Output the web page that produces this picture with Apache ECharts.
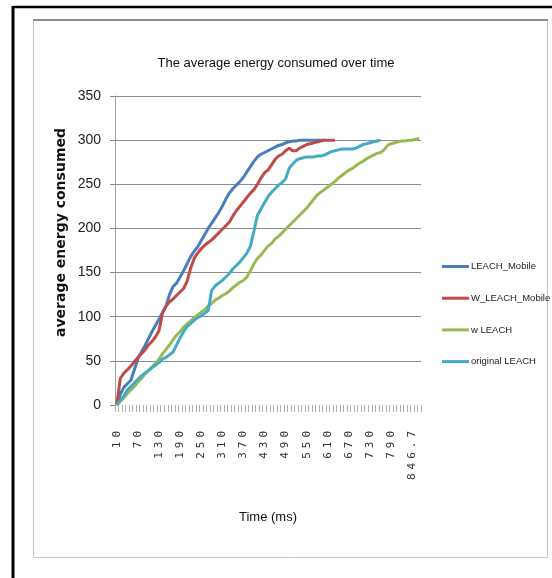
<!DOCTYPE html>
<html>
<head>
<meta charset="utf-8">
<script src="https://cdn.jsdelivr.net/npm/echarts@6/dist/echarts.min.js"></script>
<style>html,body{margin:0;padding:0;background:#fff;}#c{width:552px;height:578px;}</style>
</head>
<body>
<div id="c"></div>
<script>
const titleText = 'The average energy consumed over time';
const xName = 'Time (ms)';
const yName = 'average energy consumed';
const categories = ['10','20','30','40','50','60','70','80','90','100','110','120','130','140','150','160','170','180','190','200','210','220','230','240','250','260','270','280','290','300','310','320','330','340','350','360','370','380','390','400','410','420','430','440','450','460','470','480','490','500','510','520','530','540','550','560','570','580','590','600','610','620','630','640','650','660','670','680','690','700','710','720','730','740','750','760','770','780','790','800','810','820','830','840','846.7','853.3','860'];
const seriesNames = ['LEACH_Mobile', 'W_LEACH_Mobile', 'w LEACH', 'original LEACH'];
const leachMobile = [0,12,20,24,28,40,52,60,67,75,83,90,97,105,112,125,134,138,145,152,160,168,174,179,186,193,200,206,212,218,225,233,240,245,249,253,258,264,270,276,281,284,286,288,290,292,294,295,297,298,299,299,300,300,300,300,300,300,300,300];
const wLeachMobile = [0,30,36,40,44,49,54,58,62,68,72,77,84,104,112,117,120,124,128,132,140,155,166,172,177,181,184,187,191,195,199,203,207,214,220,225,230,235,240,244,250,257,263,266,272,278,282,284,288,291,288,288,291,293,295,296,297,298,299,300,300,300,300];
const wLeach = [0,4,8,13,17,21,26,30,35,39,43,47,52,58,63,68,74,79,83,88,92,95,99,102,105,108,112,115,119,121,124,126,129,133,136,139,141,145,152,160,166,170,175,180,183,188,191,195,199,203,207,211,215,219,223,228,233,238,241,244,247,250,253,257,260,263,266,268,271,274,276,279,281,283,285,286,289,294,296,297,298,299,299,300,300,301,302];
const originalLeach = [0,5,10,17,21,25,29,33,36,39,42,45,48,52,54,57,60,68,76,83,89,92,96,99,101,104,107,130,135,138,141,145,149,154,158,162,167,172,180,197,215,222,229,236,241,245,249,252,256,268,273,277,279,280,281,281,281,282,282,283,285,287,288,289,290,290,290,290,291,293,295,296,297,298,299,300];
const colors = ['#4A7EBB', '#BE4B48', '#98B954', '#46AAC5'];
const yTicks = { min: 0, max: 350, interval: 50 };

// wider letter spacing for the rotated time labels only
(function(){
  const proto = CanvasRenderingContext2D.prototype;
  const orig = proto.fillText;
  proto.fillText = function(t, x, y, w){
    const f = this.font;
    if (f && f.indexOf('DejaVu Sans Mono') >= 0 && 'letterSpacing' in this) {
      this.letterSpacing = '4px';
      this.font = f;
      orig.call(this, t, x, y);
      this.letterSpacing = '0px';
      this.font = f;
      return;
    }
    if ('letterSpacing' in this && this.letterSpacing !== '0px') { this.letterSpacing = '0px'; this.font = f; }
    return w === undefined ? orig.call(this, t, x, y) : orig.call(this, t, x, y, w);
  };
})();

const chart = echarts.init(document.getElementById('c'), null, { renderer: 'canvas' });
const dataArrays = [leachMobile, wLeachMobile, wLeach, originalLeach];
const gridColors = ['rgba(0,0,0,0)','#8a8a8a','#8a8a8a','#8a8a8a','#8a8a8a','#8a8a8a','#8a8a8a','#8a8a8a'];
chart.setOption({
  animation: false,
  backgroundColor: '#fff',
  title: {
    text: titleText,
    left: 'center',
    top: 52,
    textStyle: { fontFamily: 'Liberation Sans', fontSize: 13, fontWeight: 'normal', color: '#111' }
  },
  legend: {
    orient: 'vertical',
    left: 437,
    top: 254.5,
    icon: 'rect',
    itemWidth: 27,
    itemHeight: 3,
    itemGap: 17.7,
    textStyle: { fontFamily: 'Liberation Sans', fontSize: 9.5, color: '#222', lineHeight: 14, padding: [0,0,0,-3] },
    data: seriesNames
  },
  grid: { left: 115, top: 96, right: 131, bottom: 173, containLabel: false },
  xAxis: {
    type: 'category',
    data: categories,
    boundaryGap: true,
    name: xName,
    nameLocation: 'middle',
    nameGap: 106,
    nameMoveOverlap: false,
    nameTextStyle: { fontFamily: 'Liberation Sans', fontSize: 13, color: '#111' },
    axisLine: { show: false },
    axisTick: { show: true, interval: 0, length: 7, lineStyle: { color: '#b0b0b0', width: 1 } },
    axisLabel: { interval: 5, rotate: 90, margin: 22, fontFamily: 'DejaVu Sans Mono', fontSize: 11, color: '#333' },
    splitLine: { show: false }
  },
  yAxis: {
    type: 'value',
    min: yTicks.min,
    max: yTicks.max,
    interval: yTicks.interval,
    name: yName,
    nameLocation: 'middle',
    nameGap: 47,
    nameRotate: 90,
    nameMoveOverlap: false,
    nameTextStyle: { fontFamily: 'DejaVu Sans', fontWeight: 'bold', fontSize: 14, color: '#111', padding: [0, 0, 0, 36] },
    axisLine: { show: true, lineStyle: { color: '#a0a0a0', width: 1 } },
    axisTick: { show: true, length: 5, lineStyle: { color: '#8a8a8a' } },
    axisLabel: { margin: 14, fontFamily: 'Liberation Sans', fontSize: 14, color: '#222' },
    splitLine: { show: true, lineStyle: { color: gridColors, width: 1 } }
  },
  series: seriesNames.map((n, k) => ({
    name: n,
    type: 'line',
    data: dataArrays[k],
    showSymbol: false,
    symbol: 'none',
    lineStyle: { width: 3, color: colors[k] },
    itemStyle: { color: colors[k] },
    z: 2 + k
  })),
  graphic: [
    { type: 'rect', shape: { x: 33.5, y: 20.5, width: 514, height: 537 }, style: { fill: 'none', stroke: '#c4c4c4', lineWidth: 1 }, silent: true },
    { type: 'line', shape: { x1: 33, y1: 20, x2: 548, y2: 20 }, style: { stroke: '#8c8c8c', lineWidth: 2 }, silent: true },
    { type: 'line', shape: { x1: 13, y1: 7, x2: 552, y2: 7 }, style: { stroke: '#000', lineWidth: 2.5 }, silent: true },
    { type: 'line', shape: { x1: 13, y1: 6, x2: 13, y2: 578 }, style: { stroke: '#000', lineWidth: 3 }, silent: true }
  ]
});
</script>
</body>
</html>
